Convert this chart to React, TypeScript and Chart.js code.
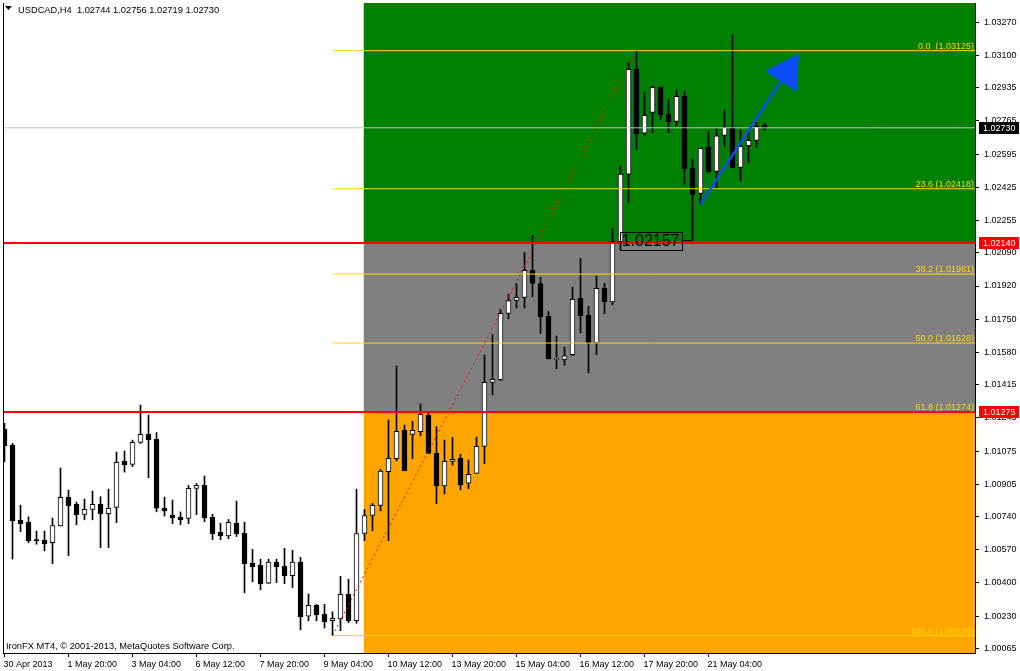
import React, { useEffect, useRef } from 'react';
import { Chart, registerables } from 'chart.js';

Chart.register(...registerables);

const FONT_FAMILY = "'Liberation Sans', Arial, sans-serif";

// ---------- data ----------
const headerText = 'USDCAD,H4  1.02744 1.02756 1.02719 1.02730';
const copyrightText = 'IronFX MT4, \u00A9 2001-2013, MetaQuotes Software Corp.';

const opens = [
  1.01188, 1.01105, 1.00722, 1.00710, 1.00618, 1.00619, 1.00606, 1.00692, 1.00838, 1.00802,
  1.00750, 1.00776, 1.00802, 1.00755, 1.00787, 1.01024, 1.01007, 1.01119, 1.01160, 1.01135,
  1.00783, 1.00747, 1.00737, 1.00730, 1.00884, 1.00899, 1.00736, 1.00659, 1.00641, 1.00705,
  1.00654, 1.00500, 1.00490, 1.00398, 1.00506, 1.00485, 1.00437, 1.00506, 1.00229, 1.00285,
  1.00239, 1.00206, 1.00216, 1.00341, 1.00206, 1.00653, 1.00745, 1.00797, 1.00969, 1.01036,
  1.01181, 1.01160, 1.01174, 1.01258, 1.01063, 1.00897, 1.01022, 1.01038, 1.00910, 1.00961,
  1.01099, 1.01427, 1.01440, 1.01780, 1.01846, 1.01862, 1.02000, 1.01933, 1.01765, 1.01544,
  1.01544, 1.01568, 1.01857, 1.01771, 1.01629, 1.01908, 1.01839, 1.02147, 1.02492, 1.03029,
  1.02702, 1.02809, 1.02937, 1.02799, 1.02763, 1.02891, 1.02522, 1.02394, 1.02630, 1.02507,
  1.02691, 1.02732, 1.02527, 1.02638, 1.02666, 1.02744,
];
const highs = [
  1.01217, 1.01114, 1.00798, 1.00738, 1.00665, 1.00665, 1.00732, 1.00988, 1.00875, 1.00814,
  1.00829, 1.00870, 1.00841, 1.00880, 1.01070, 1.01075, 1.01131, 1.01310, 1.01259, 1.01170,
  1.00839, 1.00824, 1.00763, 1.00899, 1.00909, 1.00947, 1.00751, 1.00705, 1.00725, 1.00819,
  1.00710, 1.00572, 1.00521, 1.00521, 1.00521, 1.00577, 1.00567, 1.00531, 1.00343, 1.00290,
  1.00290, 1.00252, 1.00433, 1.00418, 1.00880, 1.00776, 1.00807, 1.00981, 1.01234, 1.01510,
  1.01208, 1.01228, 1.01316, 1.01269, 1.01200, 1.01131, 1.01145, 1.01058, 1.01029, 1.01147,
  1.01566, 1.01672, 1.01800, 1.01877, 1.01933, 1.02092, 1.02179, 1.01964, 1.01790, 1.01664,
  1.01607, 1.01913, 1.02061, 1.01816, 1.01971, 1.01933, 1.02215, 1.02534, 1.03063, 1.03125,
  1.02913, 1.02945, 1.02940, 1.02876, 1.02923, 1.02918, 1.02570, 1.02626, 1.02713, 1.02724,
  1.02821, 1.03205, 1.02718, 1.02718, 1.02759, 1.02756,
];
const lows = [
  1.01020, 1.00522, 1.00662, 1.00606, 1.00598, 1.00564, 1.00498, 1.00691, 1.00539, 1.00698,
  1.00723, 1.00723, 1.00580, 1.00580, 1.00708, 1.00967, 1.00995, 1.01114, 1.00938, 1.00764,
  1.00742, 1.00703, 1.00698, 1.00703, 1.00749, 1.00713, 1.00621, 1.00621, 1.00626, 1.00637,
  1.00349, 1.00406, 1.00365, 1.00396, 1.00401, 1.00396, 1.00376, 1.00160, 1.00206, 1.00206,
  1.00169, 1.00130, 1.00155, 1.00196, 1.00193, 1.00616, 1.00667, 1.00769, 1.00616, 1.01025,
  1.00974, 1.01036, 1.01153, 1.01063, 1.00805, 1.00856, 1.01003, 1.00877, 1.00882, 1.00961,
  1.01010, 1.01363, 1.01435, 1.01752, 1.01807, 1.01807, 1.01865, 1.01677, 1.01547, 1.01496,
  1.01514, 1.01563, 1.01681, 1.01476, 1.01568, 1.01778, 1.01824, 1.02104, 1.02346, 1.02620,
  1.02693, 1.02705, 1.02773, 1.02705, 1.02739, 1.02438, 1.02157, 1.02339, 1.02500, 1.02418,
  1.02633, 1.02525, 1.02459, 1.02551, 1.02628, 1.02719,
];
const closes = [
  1.01102, 1.00718, 1.00703, 1.00616, 1.00616, 1.00600, 1.00694, 1.00838, 1.00795, 1.00749,
  1.00776, 1.00802, 1.00754, 1.00782, 1.01017, 1.01005, 1.01119, 1.01160, 1.01133, 1.00782,
  1.00769, 1.00733, 1.00723, 1.00884, 1.00899, 1.00733, 1.00652, 1.00641, 1.00710, 1.00652,
  1.00498, 1.00483, 1.00396, 1.00506, 1.00483, 1.00437, 1.00506, 1.00227, 1.00285, 1.00237,
  1.00201, 1.00218, 1.00341, 1.00206, 1.00653, 1.00745, 1.00797, 1.00973, 1.01038, 1.01176,
  1.00974, 1.01181, 1.01264, 1.01063, 1.00897, 1.01022, 1.01032, 1.00902, 1.00956, 1.01099,
  1.01427, 1.01442, 1.01780, 1.01846, 1.01862, 1.02000, 1.01933, 1.01762, 1.01547, 1.01544,
  1.01563, 1.01852, 1.01768, 1.01629, 1.01908, 1.01839, 1.02147, 1.02493, 1.03029, 1.02699,
  1.02794, 1.02937, 1.02797, 1.02761, 1.02891, 1.02520, 1.02389, 1.02625, 1.02505, 1.02689,
  1.02732, 1.02525, 1.02635, 1.02666, 1.02737, 1.02730,
];

const xTickIndex = [0, 8, 16, 24, 32, 40, 48, 56, 64, 72, 80, 88];
const xTickLabels = [
  '30 Apr 2013', '1 May 20:00', '3 May 04:00', '6 May 12:00', '7 May 20:00', '9 May 04:00',
  '10 May 12:00', '13 May 20:00', '15 May 04:00', '16 May 12:00', '17 May 20:00', '21 May 04:00',
];
const yTickValues = [
  1.03270, 1.03100, 1.02935, 1.02765, 1.02595, 1.02425, 1.02255, 1.02090, 1.01920, 1.01750,
  1.01580, 1.01415, 1.01245, 1.01075, 1.00905, 1.00740, 1.00570, 1.00400, 1.00230, 1.00065,
];
const yTickLabels = [
  '1.03270', '1.03100', '1.02935', '1.02765', '1.02595', '1.02425', '1.02255', '1.02090', '1.01920', '1.01750',
  '1.01580', '1.01415', '1.01245', '1.01075', '1.00905', '1.00740', '1.00570', '1.00400', '1.00230', '1.00065',
];

const zoneStartIndex = 44.875;
const upperZonePrice = 1.02140;
const lowerZonePrice = 1.01275;
const bidPrice = 1.02730;
const bidLabel = '1.02730';
const upperZoneLabel = '1.02140';
const lowerZoneLabel = '1.01275';

const fibStartIndex = 41;
const fibEndIndex = 79;
const fibLowPrice = 1.00130;
const fibHighPrice = 1.03125;
const fibPrices = [1.03125, 1.02418, 1.01981, 1.01628, 1.01274, 1.00130];
const fibLabels = ['0.0  (1.03125)', '23.6 (1.02418)', '38.2 (1.01981)', '50.0 (1.01628)', '61.8 (1.01274)', '100.0 (1.00130)'];

const arrowStart = { x: 87, y: 1.02339 };
const arrowHead = { x: 97.8, y: 1.03015 };

const markIndex = 86;
const markPrice = 1.02157;
const markLabel = '1.02157';

// ---------- scale ranges ----------
const X_MIN = -0.1875;
const X_MAX = 121.3125;
const Y_MIN = 1.00041;
const Y_MAX = 1.03369;

const idx = opens.map((_, i) => i);

const mt4Plugin = {
  id: 'mt4Annotations',
  afterDraw(chart: any) {
    const { ctx, chartArea, scales } = chart;
    const x = scales.x;
    const y = scales.y;
    ctx.save();

    // chart frame (left line)
    ctx.strokeStyle = '#000';
    ctx.lineWidth = 1;
    ctx.beginPath();
    ctx.moveTo(chartArea.left + 0.5, chartArea.top);
    ctx.lineTo(chartArea.left + 0.5, chartArea.bottom);
    ctx.stroke();

    // fib labels
    ctx.font = `9px ${FONT_FAMILY}`;
    ctx.fillStyle = '#FFD700';
    ctx.textAlign = 'right';
    ctx.textBaseline = 'alphabetic';
    fibPrices.forEach((p, k) => {
      ctx.fillText(fibLabels[k], chartArea.right - 1, y.getPixelForValue(p) - 2);
    });

    // marked low label box
    const mx = x.getPixelForValue(markIndex);
    const my = y.getPixelForValue(markPrice);
    ctx.font = `16px ${FONT_FAMILY}`;
    const tw = ctx.measureText(markLabel).width;
    const boxR = mx - 11;
    const boxL = boxR - tw - 4;
    ctx.strokeStyle = '#000';
    ctx.lineWidth = 1;
    ctx.strokeRect(Math.round(boxL) + 0.5, Math.round(my - 8) + 0.5, Math.round(tw + 4), 18);
    ctx.beginPath();
    ctx.moveTo(Math.round(boxR), Math.round(my) + 0.5);
    ctx.lineTo(mx, Math.round(my) + 0.5);
    ctx.stroke();
    ctx.fillStyle = '#000';
    ctx.textAlign = 'left';
    ctx.textBaseline = 'middle';
    ctx.fillText(markLabel, boxL + 2, my + 1.5);

    // axis price tags
    const tags: [number, string, string][] = [
      [bidPrice, bidLabel, '#000000'],
      [upperZonePrice, upperZoneLabel, '#FF0000'],
      [lowerZonePrice, lowerZoneLabel, '#FF0000'],
    ];
    ctx.font = `9px ${FONT_FAMILY}`;
    tags.forEach(([p, label, color]) => {
      const py = Math.round(y.getPixelForValue(p));
      ctx.fillStyle = color;
      ctx.fillRect(chartArea.right + 4, py - 6, 40, 12);
      ctx.fillStyle = '#fff';
      ctx.textAlign = 'left';
      ctx.textBaseline = 'middle';
      ctx.fillText(label, chartArea.right + 8, py + 0.5);
    });

    // header
    ctx.fillStyle = '#000';
    ctx.beginPath();
    ctx.moveTo(5, 6);
    ctx.lineTo(12, 6);
    ctx.lineTo(8.5, 10);
    ctx.closePath();
    ctx.fill();
    ctx.font = `9.3px ${FONT_FAMILY}`;
    ctx.textAlign = 'left';
    ctx.textBaseline = 'middle';
    ctx.fillText(headerText, 18, 10);

    // copyright
    ctx.fillText(copyrightText, 6, chartArea.bottom - 7);
    ctx.restore();
  },
};

function lineData(v: number, x0: number, x1: number) {
  return [{ x: x0, y: v }, { x: x1, y: v }];
}

export default function App() {
  const ref = useRef<HTMLCanvasElement>(null);
  useEffect(() => {
    const canvas = ref.current!;
    const bodyData = idx.map((i) => ({ x: i, y: [opens[i], closes[i]] }));
    const wickData = idx.map((i) => ({ x: i, y: [lows[i], highs[i]] }));
    const bodyColors = idx.map((i) => (closes[i] >= opens[i] ? '#ffffff' : '#000000'));
    const flat = { pointRadius: 0, tension: 0 };
    const datasets: any[] = [
      { type: 'line', data: lineData(Y_MAX + 0.01, zoneStartIndex, X_MAX + 1), fill: { value: upperZonePrice }, backgroundColor: '#008000', borderWidth: 0, order: 100, ...flat },
      { type: 'line', data: lineData(upperZonePrice, zoneStartIndex, X_MAX + 1), fill: { value: lowerZonePrice }, backgroundColor: '#808080', borderWidth: 0, order: 99, ...flat },
      { type: 'line', data: lineData(lowerZonePrice, zoneStartIndex, X_MAX + 1), fill: { value: Y_MIN - 0.01 }, backgroundColor: '#FFA500', borderWidth: 0, order: 98, ...flat },
      { type: 'bar', data: wickData, backgroundColor: '#000', borderWidth: 0, barThickness: 1, grouped: false, order: 20 },
      { type: 'bar', data: bodyData, backgroundColor: bodyColors, borderColor: '#000', borderWidth: 1, borderSkipped: false, barThickness: 5, minBarLength: 1, grouped: false, order: 10 },
      { type: 'line', data: lineData(bidPrice, X_MIN, X_MAX), borderColor: '#C0C0C0', borderWidth: 1, fill: false, order: 8, ...flat },
      ...fibPrices.map((p) => ({ type: 'line', data: lineData(p, fibStartIndex, X_MAX), borderColor: '#FFD700', borderWidth: 1, fill: false, order: 7, ...flat })),
      { type: 'line', data: lineData(upperZonePrice, X_MIN, X_MAX), borderColor: '#FF0000', borderWidth: 2, fill: false, order: 6, ...flat },
      { type: 'line', data: lineData(lowerZonePrice, X_MIN, X_MAX), borderColor: '#FF0000', borderWidth: 2, fill: false, order: 6, ...flat },
      { type: 'line', data: [{ x: fibStartIndex, y: fibLowPrice }, { x: fibEndIndex, y: fibHighPrice }], borderColor: '#FF0000', borderWidth: 1, borderDash: [2, 3], fill: false, order: 5, ...flat },
      { type: 'line', data: [arrowStart, arrowHead], borderColor: '#0A4CF5', borderWidth: 2.5, fill: false, order: 4, ...flat },
      {
        type: 'line', data: [arrowHead], showLine: false, order: 3,
        pointStyle: 'triangle', pointRadius: 22, pointBackgroundColor: '#0A4CF5', pointBorderWidth: 0,
        pointRotation: (c: any) => {
          const sx = c.chart.scales.x; const sy = c.chart.scales.y;
          if (!sx || !sy) return 0;
          const dx = sx.getPixelForValue(arrowHead.x) - sx.getPixelForValue(arrowStart.x);
          const dy = sy.getPixelForValue(arrowHead.y) - sy.getPixelForValue(arrowStart.y);
          return (Math.atan2(dx, -dy) * 180) / Math.PI;
        },
      },
    ];

    const chart = new Chart(canvas, {
      type: 'bar',
      data: { datasets },
      plugins: [mt4Plugin],
      options: {
        animation: false,
        responsive: false,
        events: [],
        layout: { autoPadding: false, padding: { left: 3, top: 3, right: 0, bottom: 0 } },
        plugins: { legend: { display: false }, tooltip: { enabled: false } },
        scales: {
          x: {
            type: 'linear', min: X_MIN, max: X_MAX, offset: false,
            grid: { display: true, drawOnChartArea: false, drawTicks: true, tickLength: 4, color: '#000', offset: false },
            border: { display: true, color: '#000' },
            afterBuildTicks: (s: any) => { s.ticks = xTickIndex.map((v) => ({ value: v })); },
            afterFit: (s: any) => { s.height = 18; s.paddingLeft = 0; s.paddingRight = 0; },
            ticks: {
              autoSkip: false, maxRotation: 0, minRotation: 0, align: 'start', padding: 2, labelOffset: -1,
              color: '#000', font: { family: FONT_FAMILY, size: 9 },
              callback: (v: any) => xTickLabels[xTickIndex.indexOf(v)] ?? '',
            },
          },
          y: {
            type: 'linear', position: 'right', min: Y_MIN, max: Y_MAX,
            grid: { display: true, drawOnChartArea: false, drawTicks: true, tickLength: 4, color: '#000' },
            border: { display: true, color: '#000' },
            afterBuildTicks: (s: any) => { s.ticks = yTickValues.slice().reverse().map((v) => ({ value: v })); },
            afterFit: (s: any) => { s.width = 45; s.paddingTop = 0; s.paddingBottom = 0; },
            ticks: {
              autoSkip: false, padding: 5, color: '#000', font: { family: FONT_FAMILY, size: 9 },
              callback: (v: any) => yTickLabels[yTickValues.indexOf(v)] ?? '',
            },
          },
        },
      } as any,
    } as any);
    return () => chart.destroy();
  }, []);

  return (
    <div style={{ position: 'absolute', left: 0, top: 0, width: 1020, height: 671, background: '#fff' }}>
      <canvas ref={ref} width={1020} height={671} style={{ display: 'block', width: 1020, height: 671 }} />
    </div>
  );
}
